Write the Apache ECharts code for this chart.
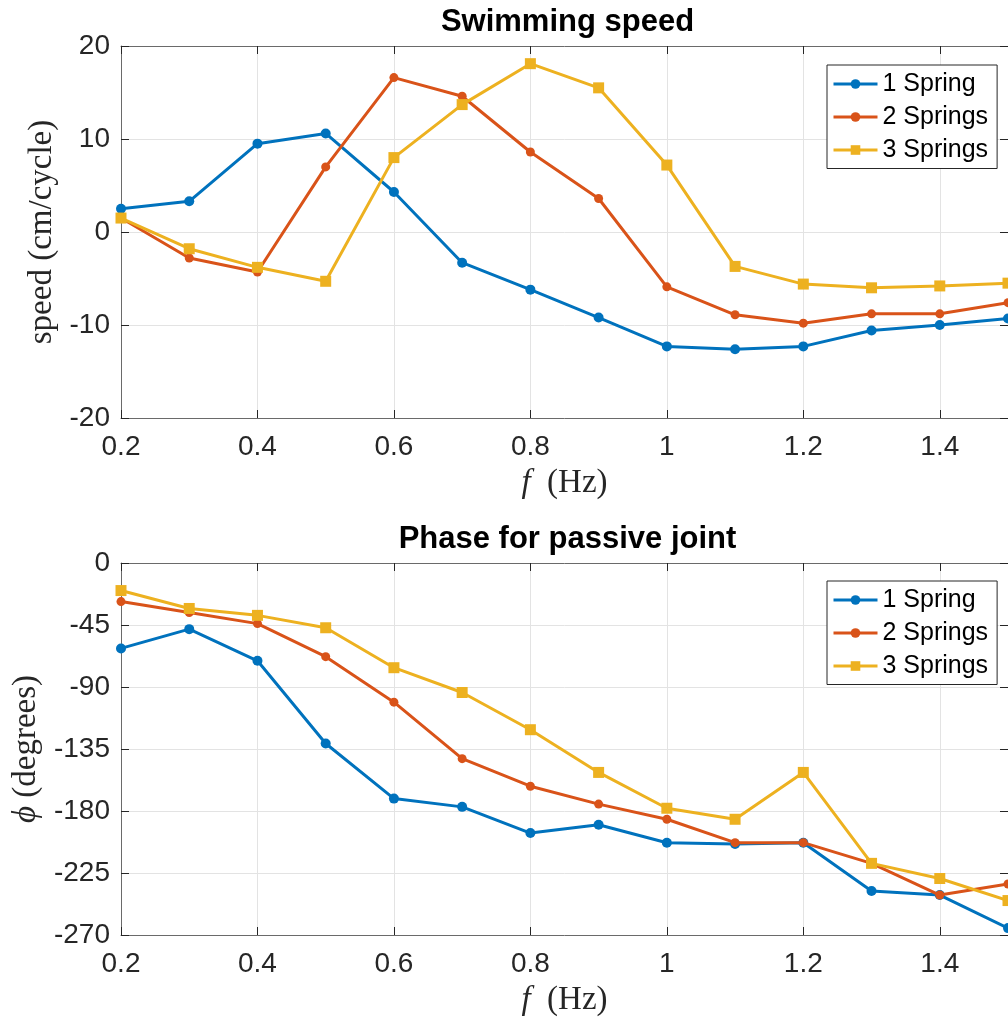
<!DOCTYPE html>
<html>
<head>
<meta charset="utf-8">
<script src="https://cdn.jsdelivr.net/npm/echarts@6/dist/echarts.min.js"></script>
<style>
html,body{margin:0;padding:0;background:#fff;}
#chart{width:1008px;height:1020px;}
</style>
</head>
<body>
<div id="chart"></div>
<script>
// ---- data ----
const freq = [0.2, 0.3, 0.4, 0.5, 0.6, 0.7, 0.8, 0.9, 1.0, 1.1, 1.2, 1.3, 1.4, 1.5];
const seriesNames = ['1 Spring', '2 Springs', '3 Springs'];
const speed1 = [2.5, 3.3, 9.5, 10.6, 4.3, -3.3, -6.2, -9.2, -12.3, -12.6, -12.3, -10.6, -10.0, -9.3];
const speed2 = [1.5, -2.8, -4.3, 7.0, 16.6, 14.6, 8.6, 3.6, -5.9, -8.9, -9.8, -8.8, -8.8, -7.6];
const speed3 = [1.5, -1.8, -3.8, -5.3, 8.0, 13.7, 18.1, 15.5, 7.2, -3.7, -5.6, -6.0, -5.8, -5.5];
const phase1 = [-62, -48, -71, -131, -171, -177, -196, -190, -203, -204, -203, -238, -241, -265];
const phase2 = [-28, -36, -44, -68, -101, -142, -162, -175, -186, -203, -203, -218, -241, -233];
const phase3 = [-20, -33, -38, -47, -76, -94, -121, -152, -178, -186, -152, -218, -229, -245];
const titles = ['Swimming speed', 'Phase for passive joint'];
const xTicks = {min: 0.2, max: 1.5, interval: 0.2};
const speedTicks = {min: -20, max: 20, interval: 10};
const phaseTicks = {min: -270, max: 0, interval: 45};

// ---- style ----
const colors = ['#0072BD', '#D95319', '#EDB120'];
const symbols = ['circle', 'circle', 'rect'];
const symSizes = [10, 9, 11];
const sans = 'Liberation Sans, Arial, Helvetica, sans-serif';
const serif = 'Liberation Serif, Times New Roman, serif';
const axisCol = '#262626';
const lineCol = '#6a6a6a';
const gridCol = '#e3e3e3';

const G = [
  {left: 121, top: 46, width: 893, height: 372},
  {left: 121, top: 563, width: 893, height: 372}
];

function pairs(ys) { return freq.map((f, i) => [f, ys[i]]); }

const xAxes = [], yAxes = [];
[0, 1].forEach(g => {
  xAxes.push({
    type: 'value', gridIndex: g, min: xTicks.min, max: xTicks.max, interval: xTicks.interval,
    position: 'bottom',
    axisLine: {show: true, onZero: false, lineStyle: {color: lineCol, width: 1}},
    axisTick: {show: true, inside: true, length: 8, lineStyle: {color: axisCol, width: 1}},
    axisLabel: {show: true, margin: 15, fontSize: 28, fontFamily: sans, color: axisCol, showMaxLabel: false},
    splitLine: {show: true, lineStyle: {color: gridCol, width: 1}},
    name: '{i|f}  (Hz)', nameLocation: 'middle', nameGap: 49,
    nameTextStyle: {fontSize: 33, fontFamily: serif, color: axisCol,
      rich: {i: {fontStyle: 'italic', fontSize: 33, fontFamily: serif, color: axisCol}}}
  });
  xAxes.push({
    type: 'value', gridIndex: g, min: xTicks.min, max: xTicks.max, interval: xTicks.interval,
    position: 'top',
    axisLine: {show: true, onZero: false, lineStyle: {color: lineCol, width: 1}},
    axisTick: {show: true, inside: true, length: 8, lineStyle: {color: axisCol, width: 1}},
    axisLabel: {show: false}, splitLine: {show: false}
  });
});

const yDefs = [speedTicks, phaseTicks];
const yNames = ['speed (cm/cycle)', '{i|\u03d5} (degrees)'];
const yGaps = [57, 76];
[0, 1].forEach(g => {
  const t = yDefs[g];
  yAxes.push({
    type: 'value', gridIndex: g, min: t.min, max: t.max, interval: t.interval,
    position: 'left',
    axisLine: {show: true, onZero: false, lineStyle: {color: lineCol, width: 1}},
    axisTick: {show: true, inside: true, length: 8, lineStyle: {color: axisCol, width: 1}},
    axisLabel: {show: true, margin: 11, fontSize: 28, fontFamily: sans, color: axisCol, padding: [5, 0, 0, 0]},
    splitLine: {show: true, lineStyle: {color: gridCol, width: 1}},
    name: yNames[g], nameLocation: 'middle', nameGap: yGaps[g],
    nameTextStyle: {fontSize: 33, fontFamily: serif, color: axisCol,
      rich: {i: {fontStyle: 'italic', fontSize: 33, fontFamily: serif, color: axisCol}}}
  });
  yAxes.push({
    type: 'value', gridIndex: g, min: t.min, max: t.max, interval: t.interval,
    position: 'right',
    axisLine: {show: true, onZero: false, lineStyle: {color: lineCol, width: 1}},
    axisTick: {show: true, inside: true, length: 8, lineStyle: {color: axisCol, width: 1}},
    axisLabel: {show: false}, splitLine: {show: false}
  });
});

const dataSets = [[speed1, speed2, speed3], [phase1, phase2, phase3]];
const series = [];
[0, 1].forEach(g => {
  dataSets[g].forEach((ys, k) => {
    series.push({
      type: 'line', name: seriesNames[k], xAxisIndex: g * 2, yAxisIndex: g * 2,
      data: pairs(ys), symbol: symbols[k], symbolSize: symSizes[k],
      showAllSymbol: true, animation: false, z: 2 + k,
      lineStyle: {color: colors[k], width: 3},
      itemStyle: {color: colors[k], borderWidth: 0}
    });
  });
});

const legendTops = [65, 581];
const legends = legendTops.map(t => ({
  orient: 'vertical', left: 827, top: t,
  data: seriesNames, itemWidth: 44, itemHeight: 12, itemGap: 0,
  padding: [2.5, 9, 2, 5],
  backgroundColor: '#fff', borderColor: axisCol, borderWidth: 1, borderRadius: 0,
  lineStyle: {width: 3},
  textStyle: {fontSize: 25, fontFamily: sans, color: '#000', lineHeight: 33},
  selectedMode: false
}));

const titleOpts = [
  {text: titles[0], left: 567.5, top: 7},
  {text: titles[1], left: 567.5, top: 524}
].map(o => Object.assign(o, {textAlign: 'center', padding: 0,
  textStyle: {fontSize: 31, fontWeight: 'bold', fontFamily: sans, color: '#000', lineHeight: 31}}));

const chart = echarts.init(document.getElementById('chart'), null, {renderer: 'canvas'});
chart.setOption({
  animation: false,
  backgroundColor: '#fff',
  title: titleOpts,
  grid: G,
  xAxis: xAxes,
  yAxis: yAxes,
  legend: legends,
  series: series
});
</script>
</body>
</html>
